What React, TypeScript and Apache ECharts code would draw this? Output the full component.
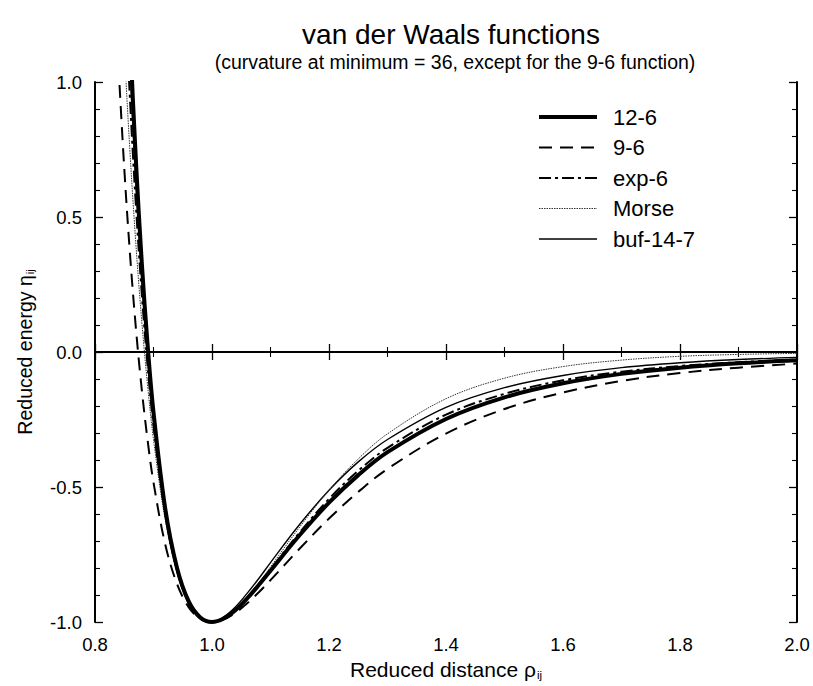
import React, { useEffect, useRef } from "react";
import * as echarts from "echarts";

const rho = [0.84, 0.85, 0.86, 0.87, 0.88, 0.89, 0.9, 0.92, 0.94, 0.96, 0.98, 1.0, 1.02, 1.04, 1.06, 1.08, 1.1, 1.15, 1.2, 1.25, 1.3, 1.4, 1.5, 1.6, 1.7, 1.8, 1.9, 2.0];
const lj126 = [2.41, 1.727, 1.166, 0.706, 0.33, 0.024, -0.223, -0.579, -0.798, -0.923, -0.983, -1.0, -0.987, -0.956, -0.913, -0.863, -0.81, -0.678, -0.558, -0.456, -0.371, -0.248, -0.168, -0.116, -0.081, -0.058, -0.042, -0.031];
const lj96 = [1.066, 0.681, 0.357, 0.086, -0.14, -0.328, -0.483, -0.712, -0.858, -0.945, -0.988, -1.0, -0.99, -0.966, -0.931, -0.89, -0.845, -0.728, -0.617, -0.518, -0.433, -0.302, -0.211, -0.15, -0.107, -0.078, -0.058, -0.043];
const exp6 = [1.948, 1.394, 0.928, 0.54, 0.215, -0.054, -0.274, -0.599, -0.805, -0.925, -0.984, -1.0, -0.987, -0.955, -0.911, -0.86, -0.805, -0.668, -0.544, -0.44, -0.355, -0.232, -0.155, -0.105, -0.073, -0.052, -0.038, -0.028];
const morse = [1.598, 1.13, 0.733, 0.396, 0.112, -0.126, -0.324, -0.621, -0.812, -0.926, -0.984, -1.0, -0.987, -0.954, -0.909, -0.855, -0.796, -0.648, -0.512, -0.396, -0.303, -0.173, -0.097, -0.054, -0.03, -0.016, -0.009, -0.005];
const buf147 = [2.17, 1.56, 1.05, 0.625, 0.273, -0.018, -0.254, -0.599, -0.813, -0.933, -0.989, -1.0, -0.981, -0.944, -0.894, -0.839, -0.78, -0.638, -0.512, -0.407, -0.324, -0.205, -0.132, -0.087, -0.058, -0.04, -0.028, -0.02];

const seriesNames = ["12-6", "9-6", "exp-6", "Morse", "buf-14-7"];
const xTickLabels = ["0.8", "1.0", "1.2", "1.4", "1.6", "1.8", "2.0"];
const yTickLabels = ["-1.0", "-0.5", "0.0", "0.5", "1.0"];

const FONT = "'Liberation Sans', Arial, Helvetica, sans-serif";

export default function App() {
  const ref = useRef<HTMLDivElement>(null);
  useEffect(() => {
    if (!ref.current) return;
    const chart = echarts.init(ref.current, null, { renderer: "svg" });
    const pairs = (ys: number[]) => rho.map((x, i) => [x, ys[i]]);
    const styles = [
      { width: 4, type: "solid" as any, color: "#000" },
      { width: 2, type: [13, 8] as any, color: "#000" },
      { width: 2, type: [12, 4, 3, 4] as any, color: "#000" },
      { width: 1, type: [1.5, 1] as any, color: "#333" },
      { width: 1.4, type: "solid" as any, color: "#000" },
    ];
    const datasets = [lj126, lj96, exp6, morse, buf147];
    const series: any[] = datasets.map((d, i) => ({
      name: seriesNames[i],
      type: "line",
      data: pairs(d),
      smooth: 0.35,
      symbol: "none",
      clip: true,
      lineStyle: styles[i],
      itemStyle: { color: "#000" },
      z: 5 - i,
    }));
    series[0].markLine = {
      silent: true,
      symbol: "none",
      label: { show: false },
      lineStyle: { color: "#000", width: 1.6, type: "solid" },
      data: [{ yAxis: 0 }],
    };
    const axisCommon = {
      axisLine: { show: true, lineStyle: { color: "#000", width: 2 } },
      axisTick: { show: true, inside: true, length: 8, lineStyle: { color: "#000", width: 1.3 } },
      minorTick: { show: true, length: 5, lineStyle: { color: "#000", width: 1.1 } },
      splitLine: { show: false },
    };
    chart.setOption({
      animation: false,
      backgroundColor: "#fff",
      title: [
        {
          text: "van der Waals functions",
          left: 446,
          top: 15,
          textAlign: "center",
          textStyle: { fontFamily: FONT, fontSize: 28, fontWeight: "normal", color: "#000" },
        },
        {
          text: "(curvature at minimum = 36, except for the 9-6 function)",
          left: 450,
          top: 47,
          textAlign: "center",
          textStyle: { fontFamily: FONT, fontSize: 19.5, fontWeight: "normal", color: "#000" },
        },
      ],
      legend: {
        orient: "vertical",
        left: 537,
        top: 105,
        padding: 0,
        itemWidth: 58,
        itemHeight: 14,
        itemGap: 6.5,
        data: seriesNames.map((n, i) => ({
          name: n,
          lineStyle: { width: styles[i].width, type: styles[i].type, color: styles[i].color },
        })),
        itemStyle: { opacity: 0 },
        textStyle: { fontFamily: FONT, fontSize: 22, color: "#000", lineHeight: 24, padding: [0, 0, 0, 11] },
      },
      grid: { left: 95, right: 16, top: 82, bottom: 64, containLabel: false },
      xAxis: [
        {
          type: "value",
          min: 0.8,
          max: 2.0,
          interval: 0.2,
          ...axisCommon,
          minorTick: { ...axisCommon.minorTick, splitNumber: 2 },
          axisLabel: {
            margin: 13,
            fontFamily: FONT,
            fontSize: 18.5,
            color: "#000",
            formatter: (v: number) => xTickLabels[Math.round((v - 0.8) / 0.2)] ?? "",
          },
          name: "{a|Reduced distance ρ}{s|ij}",
          nameLocation: "middle",
          nameGap: 28,
          nameTextStyle: {
            rich: {
              a: { fontFamily: FONT, fontSize: 21, color: "#000" },
              s: { fontFamily: FONT, fontSize: 11.5, color: "#000", padding: [11, 0, 0, 1] },
            },
          },
        },
        {
          type: "value",
          position: "top",
          min: 0.8,
          max: 2.0,
          interval: 0.2,
          ...axisCommon,
          minorTick: { ...axisCommon.minorTick, splitNumber: 2 },
          axisLabel: { show: false },
        },
      ],
      yAxis: [
        {
          type: "value",
          min: -1,
          max: 1,
          interval: 0.5,
          ...axisCommon,
          minorTick: { ...axisCommon.minorTick, splitNumber: 5 },
          axisLabel: {
            margin: 13,
            fontFamily: FONT,
            fontSize: 18.5,
            color: "#000",
            formatter: (v: number) => yTickLabels[Math.round((v + 1) / 0.5)] ?? "",
          },
          name: "{a|Reduced energy η}{s|ij}",
          nameLocation: "middle",
          nameGap: 60,
          nameRotate: 90,
          nameTextStyle: {
            rich: {
              a: { fontFamily: FONT, fontSize: 19.5, color: "#000" },
              s: { fontFamily: FONT, fontSize: 11, color: "#000", padding: [10, 0, 0, 1] },
            },
          },
        },
        {
          type: "value",
          position: "right",
          min: -1,
          max: 1,
          interval: 0.5,
          ...axisCommon,
          minorTick: { ...axisCommon.minorTick, splitNumber: 5 },
          axisLabel: { show: false },
        },
      ],
      series,
    });
    return () => chart.dispose();
  }, []);
  return <div ref={ref} style={{ width: 813, height: 686, position: "absolute", left: 0, top: 0 }} />;
}
